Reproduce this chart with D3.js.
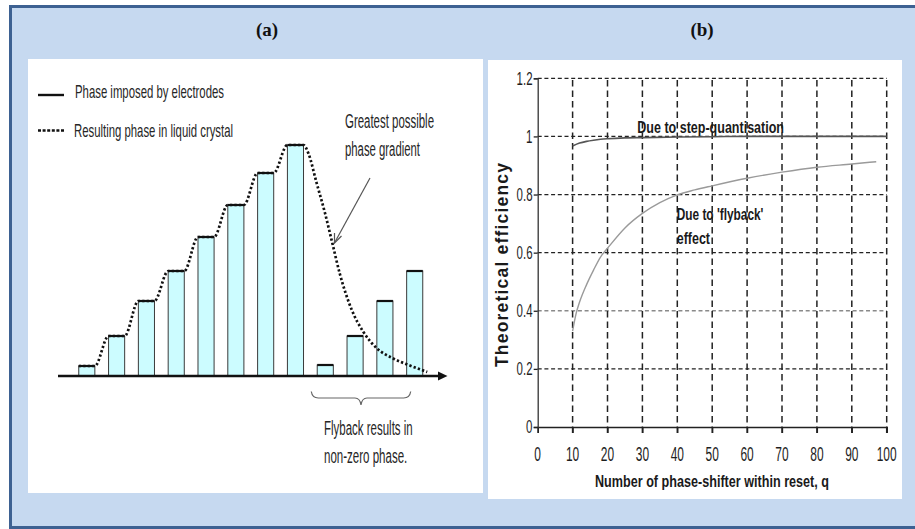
<!DOCTYPE html>
<html>
<head>
<meta charset="utf-8">
<script src="https://cdn.jsdelivr.net/npm/d3@7"></script>
<style>
  html, body { margin: 0; padding: 0; background: #fff; }
  svg { display: block; }
</style>
</head>
<body>
<svg id="fig" width="915" height="529"></svg>
<script>
// ---------- Panel (a): stepped phase profile ----------
// Electrode phase levels of the ramp (arbitrary phase units)
const rampSteps = [1.0, 4.0, 7.5, 10.5, 13.9, 17.1, 20.3, 23.1];
// Electrode phase levels of the following reset period
const flybackSteps = [1.1, 4.0, 7.5, 10.5];
// Liquid-crystal phase relaxing after the reset: [position, phase]
const decayPhase = [
  [7.43, 22.3], [7.71, 19.3], [7.99, 16.3], [8.22, 13.5], [8.49, 10.2],
  [8.89, 6.6], [9.28, 4.4], [9.72, 2.8], [10.28, 1.75], [10.84, 1.05], [11.42, 0.4]
];
const legendLabels = ["Phase imposed by electrodes", "Resulting phase in liquid crystal"];
const gradientNote = ["Greatest possible", "phase gradient"];
const flybackNote = ["Flyback results in", "non-zero phase."];

// ---------- Panel (b): theoretical efficiency ----------
const qStep = [10, 12, 14, 16, 18, 20, 25, 30, 40, 50, 60, 70, 80, 90, 100];
const effStep = [0.967, 0.977, 0.983, 0.987, 0.990, 0.992, 0.995, 0.996, 0.998, 0.999, 1.0, 1.0, 1.0, 1.0, 1.0];
const qFlyback = [10, 11, 12, 14, 16, 18, 20, 25, 30, 35, 40, 45, 50, 60, 70, 80, 90, 97];
const effFlyback = [0.33, 0.39, 0.43, 0.49, 0.54, 0.585, 0.615, 0.685, 0.735, 0.772, 0.799, 0.816, 0.83, 0.856, 0.877, 0.894, 0.905, 0.913];
const xTicks = [0, 10, 20, 30, 40, 50, 60, 70, 80, 90, 100];
const yTicks = [0, 0.2, 0.4, 0.6, 0.8, 1, 1.2];
const yTickLabels = ["0", "0.2", "0.4", "0.6", "0.8", "1", "1.2"];
const stepLabel = "Due to step-quantisation";
const flybackLabel = ["Due to 'flyback'", "effect"];
const xTitle = "Number of phase-shifter within reset, q";
const yTitle = "Theoretical efficiency";
const panelTitles = ["(a)", "(b)"];

const svg = d3.select("#fig");
const SANS = "'Liberation Sans', Arial, sans-serif";
const SERIF = "'Liberation Serif', 'Times New Roman', serif";

// text helper: optional fixed rendered width (condensed lettering)
function label(g, s, x, y, o = {}) {
  const t = g.append("text")
    .attr("x", x).attr("y", y)
    .attr("font-family", o.family || SANS)
    .attr("font-size", o.size || 16)
    .attr("font-weight", o.weight || "normal")
    .attr("fill", o.fill || "#222")
    .attr("text-anchor", o.anchor || "start")
    .text(s);
  if (o.width) t.attr("textLength", o.width).attr("lengthAdjust", o.adjust || "spacingAndGlyphs");
  if (o.rotate) t.attr("transform", `rotate(${o.rotate},${x},${y})`);
  return t;
}

// ---------- frame ----------
svg.append("rect").attr("x", 10.5).attr("y", 6.5).attr("width", 1000).attr("height", 521)
  .attr("fill", "#c6d9f0").attr("stroke", "#3d6192").attr("stroke-width", 3);
svg.append("rect").attr("x", 28).attr("y", 59).attr("width", 455).attr("height", 434).attr("fill", "#fff");
svg.append("rect").attr("x", 488).attr("y", 60).attr("width", 414).attr("height", 439).attr("fill", "#fff");

label(svg, panelTitles[0], 267, 35.5, { family: SERIF, size: 19, weight: "bold", anchor: "middle", fill: "#111" });
label(svg, panelTitles[1], 702, 35.5, { family: SERIF, size: 19, weight: "bold", anchor: "middle", fill: "#111" });

// ---------- panel (a) ----------
const ga = svg.append("g");
const xA = d3.scaleLinear().domain([0, 11]).range([86.8, 414.7]);
const yA = d3.scaleLinear().domain([0, 24]).range([376, 136]);
const halfW = 0.27;

const bars = rampSteps.map((v, i) => ({ i, v }))
  .concat(flybackSteps.map((v, j) => ({ i: rampSteps.length + j, v })));

ga.selectAll("rect.bar").data(bars).join("rect")
  .attr("class", "bar")
  .attr("x", d => xA(d.i - halfW)).attr("width", d => xA(d.i + halfW) - xA(d.i - halfW))
  .attr("y", d => yA(d.v)).attr("height", d => yA(0) - yA(d.v))
  .attr("fill", "#ccfcff").attr("stroke", "#3a3a3a").attr("stroke-width", 1);
// electrode phase: solid top of each step
ga.selectAll("line.top").data(bars).join("line")
  .attr("x1", d => xA(d.i - halfW)).attr("x2", d => xA(d.i + halfW))
  .attr("y1", d => yA(d.v)).attr("y2", d => yA(d.v))
  .attr("stroke", "#111").attr("stroke-width", 2.2);

// liquid-crystal phase: follows the ramp steps, then relaxes
const lcPoints = [];
rampSteps.forEach((v, i) => { lcPoints.push([i - halfW, v]); lcPoints.push([i + halfW, v]); });
decayPhase.forEach(p => lcPoints.push(p));
ga.append("path")
  .attr("d", d3.line().x(d => xA(d[0])).y(d => yA(d[1])).curve(d3.curveMonotoneX)(lcPoints))
  .attr("fill", "none").attr("stroke", "#111").attr("stroke-width", 2.7)
  .attr("stroke-dasharray", "2.3,2.2");

// horizontal axis with arrow
ga.append("line").attr("x1", 58).attr("x2", 441).attr("y1", yA(0)).attr("y2", yA(0))
  .attr("stroke", "#111").attr("stroke-width", 2.5);
ga.append("path").attr("d", `M447.5,${yA(0)} L438,${yA(0) - 4.5} L438,${yA(0) + 4.5} Z`).attr("fill", "#111");

// legend
label(ga, legendLabels[0], 75, 97.5, { size: 18.5, width: 149, fill: "#262626" });
label(ga, legendLabels[1], 74, 137, { size: 19, width: 159, fill: "#262626" });
ga.append("line").attr("x1", 38).attr("x2", 64).attr("y1", 95).attr("y2", 95)
  .attr("stroke", "#111").attr("stroke-width", 2.4);
ga.append("line").attr("x1", 38).attr("x2", 64).attr("y1", 130.5).attr("y2", 130.5)
  .attr("stroke", "#111").attr("stroke-width", 2.4).attr("stroke-dasharray", "3,1.6");

// gradient annotation + arrow
label(ga, gradientNote[0], 345, 128.3, { size: 20, width: 89, fill: "#262626" });
label(ga, gradientNote[1], 345, 155.5, { size: 20, width: 75, fill: "#262626" });
ga.append("line").attr("x1", 370).attr("y1", 178).attr("x2", 335).attr("y2", 242)
  .attr("stroke", "#555").attr("stroke-width", 1.2);
ga.append("path").attr("d", "M334.5,233 L334.5,243 L341.5,236")
  .attr("fill", "none").attr("stroke", "#555").attr("stroke-width", 1.2);

// brace under the flyback steps
const bL = xA(8) - 14, bR = xA(11) - 4, bM = (bL + bR) / 2, bT = 391.5, bB = 398, tip = 405;
ga.append("path")
  .attr("d", `M${bL},${bT} Q${bL + 1},${bB} ${bL + 7},${bB} L${bM - 6},${bB} Q${bM - 1},${bB} ${bM},${tip}` +
             ` Q${bM + 1},${bB} ${bM + 6},${bB} L${bR - 7},${bB} Q${bR - 1},${bB} ${bR},${bT}`)
  .attr("fill", "none").attr("stroke", "#666").attr("stroke-width", 1.2);
label(ga, flybackNote[0], 324, 435, { size: 20, width: 88.7, fill: "#262626" });
label(ga, flybackNote[1], 324, 463.3, { size: 20, width: 83.3, fill: "#262626" });

// ---------- panel (b) ----------
const gb = svg.append("g");
const xB = d3.scaleLinear().domain([0, 100]).range([537.7, 886.7]);
const yB = d3.scaleLinear().domain([0, 1.2]).range([427, 78.3]);

// horizontal grid
gb.selectAll("line.hgrid").data(yTicks.filter(v => v > 0)).join("line")
  .attr("x1", xB(0)).attr("x2", xB(100)).attr("y1", d => yB(d)).attr("y2", d => yB(d))
  .attr("stroke", d => d === 0.4 ? "#8a8a8a" : "#222").attr("stroke-width", 1.3)
  .attr("stroke-dasharray", "4,2.7");
// vertical grid
gb.selectAll("line.vgrid").data(xTicks.filter(v => v > 0)).join("line")
  .attr("x1", d => xB(d)).attr("x2", d => xB(d)).attr("y1", yB(0) + 6).attr("y2", yB(1.2))
  .attr("stroke", "#222").attr("stroke-width", 1.5)
  .attr("stroke-dasharray", "6.5,4");

// axes
const axX = gb.append("g").attr("transform", `translate(0,${yB(0)})`)
  .call(d3.axisBottom(xB).tickValues(xTicks).tickSize(6).tickFormat(d => d));
axX.select(".domain").attr("stroke", "#222").attr("stroke-width", 1.5);
axX.selectAll(".tick line").attr("stroke", "#222").attr("stroke-width", 1.3);
axX.selectAll(".tick text").remove();
const axY = gb.append("g").attr("transform", `translate(${xB(0)},0)`)
  .call(d3.axisLeft(yB).tickValues(yTicks).tickSize(4).tickFormat((d, i) => yTickLabels[i]));
axY.select(".domain").attr("stroke", "#333").attr("stroke-width", 1.3);
axY.selectAll(".tick line").attr("stroke", "#222").attr("stroke-width", 1.3);
axY.selectAll(".tick text").remove();

// tick labels (condensed lettering)
xTicks.forEach(v => {
  const cx = xB(v);
  label(gb, String(v), cx, 461, { size: 21, anchor: "middle", fill: "#1e1e1e" })
    .attr("transform", `translate(${cx},0) scale(0.57,1) translate(${-cx},0)`);
});
yTicks.forEach((v, i) => {
  const rx = 532.5, by = yB(v) + 6.4;
  label(gb, yTickLabels[i], rx, by, { size: 18.5, anchor: "end", fill: "#1e1e1e" })
    .attr("transform", `translate(${rx},0) scale(0.62,1) translate(${-rx},0)`);
});

// curves
const lineB = d3.line().x(d => xB(d[0])).y(d => yB(d[1])).curve(d3.curveMonotoneX);
gb.append("path").attr("d", lineB(qFlyback.map((q, i) => [q, effFlyback[i]])))
  .attr("fill", "none").attr("stroke", "#9a9a9a").attr("stroke-width", 1.4);
gb.append("path").attr("d", lineB(qStep.map((q, i) => [q, effStep[i]])))
  .attr("fill", "none").attr("stroke", "#555").attr("stroke-width", 1.6);

// curve labels and axis titles
label(gb, stepLabel, 637.3, 133.3, { size: 16, weight: "bold", width: 146.7, fill: "#1a1a1a" });
label(gb, flybackLabel[0], 676.7, 220, { size: 16.5, weight: "bold", width: 86.7, fill: "#1a1a1a" });
label(gb, flybackLabel[1], 676.7, 244, { size: 16.5, weight: "bold", width: 33.3, fill: "#1a1a1a" });
label(gb, xTitle, 712, 486.7, { size: 16.5, weight: "bold", width: 234, anchor: "middle", fill: "#1a1a1a" });
label(gb, yTitle, 508, 265, { size: 17.5, weight: "bold", width: 204, anchor: "middle", rotate: -90, adjust: "spacing", fill: "#1a1a1a" });
</script>
</body>
</html>
